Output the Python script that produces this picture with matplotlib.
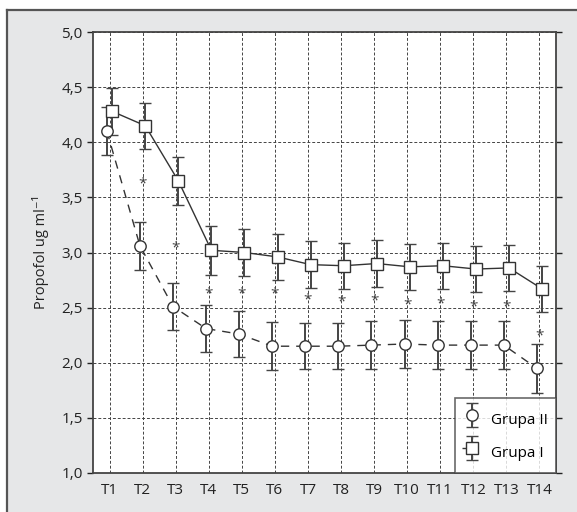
import matplotlib
matplotlib.use("Agg")
import matplotlib.pyplot as plt
from matplotlib.container import ErrorbarContainer
from matplotlib.legend_handler import HandlerErrorbar
from matplotlib.lines import Line2D
from matplotlib.patches import Rectangle
import numpy as np

plt.rcParams["font.family"] = ["Open Sans", "DejaVu Sans"]

# data
times = ["T1", "T2", "T3", "T4", "T5", "T6", "T7", "T8", "T9", "T10", "T11", "T12", "T13", "T14"]
grupa_i = [4.28, 4.15, 3.65, 3.02, 3.00, 2.96, 2.89, 2.88, 2.90, 2.87, 2.88, 2.85, 2.86, 2.67]
grupa_i_sd = [0.21, 0.21, 0.22, 0.22, 0.21, 0.21, 0.21, 0.21, 0.21, 0.21, 0.21, 0.21, 0.21, 0.21]
grupa_ii = [4.10, 3.06, 2.51, 2.31, 2.26, 2.15, 2.15, 2.15, 2.16, 2.17, 2.16, 2.16, 2.16, 1.95]
grupa_ii_sd = [0.22, 0.22, 0.21, 0.21, 0.21, 0.22, 0.21, 0.21, 0.22, 0.22, 0.22, 0.22, 0.22, 0.22]
star_y = [None, 3.64, 3.06, 2.64, 2.64, 2.64, 2.59, 2.57, 2.58, 2.54, 2.55, 2.53, 2.53, 2.26]

dark = "#333333"
x = np.arange(1, len(times) + 1)
dodge = 0.08

fig = plt.figure(figsize=(5.77, 5.12), dpi=100)
fig.patch.set_facecolor("white")

# grey panel with dark top/left border
fig.add_artist(Rectangle((7 / 577, 0), 1, 1 - 9.5 / 512, transform=fig.transFigure,
                         facecolor="#e6e7e8", edgecolor="none", zorder=-2))
fig.add_artist(Line2D([7 / 577, 1], [1 - 9.5 / 512] * 2, transform=fig.transFigure,
                      color="#555555", lw=1.6, zorder=-1))
fig.add_artist(Line2D([7 / 577] * 2, [0, 1 - 9.5 / 512], transform=fig.transFigure,
                      color="#555555", lw=1.6, zorder=-1))

ax = fig.add_axes([93 / 577, 1 - 473 / 512, (556 - 93) / 577, (473 - 32) / 512])
ax.set_facecolor("white")

# lines
ax.plot(x + dodge, grupa_i, color=dark, lw=1.0, zorder=3)
ax.plot(x - dodge, grupa_ii, color=dark, lw=1.0, ls=(0, (6, 5)), zorder=3)

eb_ii = ax.errorbar(x - dodge, grupa_ii, yerr=grupa_ii_sd, fmt="o", ms=8.2, mfc="white",
                    mec=dark, mew=1.0, ecolor="#444444", elinewidth=1.4, capsize=4.5,
                    capthick=1.4, zorder=4)
eb_i = ax.errorbar(x + dodge, grupa_i, yerr=grupa_i_sd, fmt="s", ms=8.8, mfc="white",
                   mec=dark, mew=1.0, ecolor="#444444", elinewidth=1.4, capsize=4.5,
                   capthick=1.4, zorder=4)

for xi, sy in zip(x, star_y):
    if sy is not None:
        ax.text(xi, sy - 0.02, "*", ha="center", va="center", fontsize=11, color="#444444", zorder=5)

ax.set_xlim(0.5, 14.5)
ax.set_ylim(1.0, 5.0)
ax.set_xticks(x)
ax.set_xticklabels(times)
yt = [1.0, 1.5, 2.0, 2.5, 3.0, 3.5, 4.0, 4.5, 5.0]
ax.set_yticks(yt)
ax.set_yticklabels([f"{v:.1f}".replace(".", ",") for v in yt])
ax.tick_params(axis="x", length=0, pad=7, labelsize=11, colors="#222222")
ax.tick_params(axis="y", length=4, width=1, labelsize=11, colors="#222222", right=True)
ax.grid(True, color="#444444", ls=(0, (3, 2)), lw=0.7)
ax.set_axisbelow(True)
for s in ax.spines.values():
    s.set_color("#444444")
    s.set_linewidth(1.3)

ax.set_ylabel("Propofol ug ml\u207b\u00b9", fontsize=10.5, color="#222222", labelpad=9)

dash_handle = Line2D([], [], color=dark, lw=1.0, ls=(0, (4, 30)))
leg = ax.legend([eb_ii, (dash_handle, eb_i)], ["Grupa II", "Grupa I"],
                loc="lower right", borderaxespad=0, fontsize=11, frameon=True,
                fancybox=False, handlelength=1.3, handleheight=2.3, labelspacing=0.4,
                borderpad=0.5, handletextpad=0.6,
                handler_map={ErrorbarContainer: HandlerErrorbar(xerr_size=0.5, yerr_size=0.8)})
leg.get_frame().set_edgecolor("#444444")
leg.get_frame().set_linewidth(1.2)

fig.savefig("out.png", dpi=100)
